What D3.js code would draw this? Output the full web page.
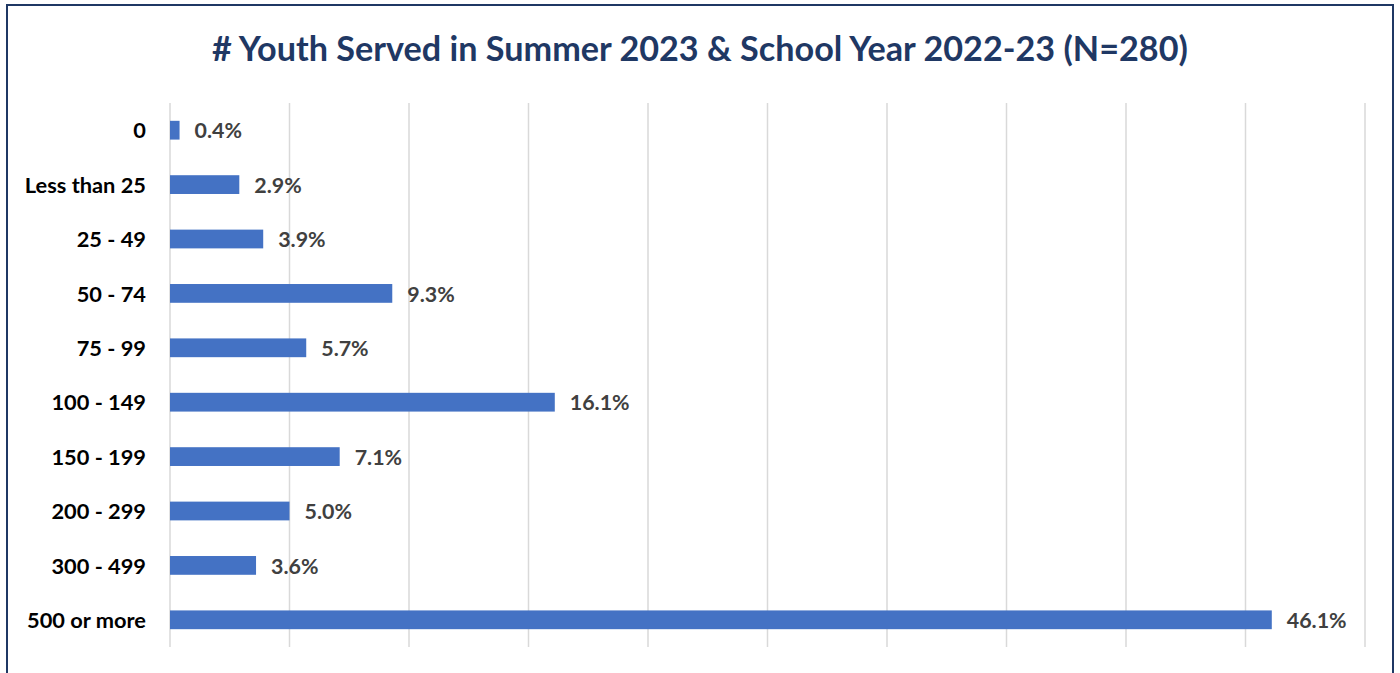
<!DOCTYPE html>
<html>
<head>
<meta charset="utf-8">
<script src="https://cdn.jsdelivr.net/npm/d3@7"></script>
<style>
  body { margin: 0; background: #fff; }
  svg { display: block; }
</style>
</head>
<body>
<svg id="chart"></svg>
<script>
// data
const categories = ['0', 'Less than 25', '25 - 49', '50 - 74', '75 - 99', '100 - 149',
  '150 - 199', '200 - 299', '300 - 499', '500 or more'];
const percents = [0.4, 2.9, 3.9, 9.3, 5.7, 16.1, 7.1, 5.0, 3.6, 46.1];
const xTicks = [0, 5, 10, 15, 20, 25, 30, 35, 40, 45, 50];
const title = '# Youth Served in Summer 2023 & School Year 2022-23 (N=280)';

const width = 1400, height = 673;
const font = 'Lato, "Open Sans", sans-serif';

const svg = d3.select('#chart')
  .attr('width', width)
  .attr('height', height);

// frame
svg.append('rect')
  .attr('x', 7)
  .attr('y', 5)
  .attr('width', 1386)
  .attr('height', 700)
  .attr('fill', 'none')
  .attr('stroke', '#1F3864')
  .attr('stroke-width', 2);

svg.append('text')
  .attr('x', 700)
  .attr('y', 61)
  .attr('text-anchor', 'middle')
  .attr('font-family', font)
  .attr('font-weight', 'bold')
  .attr('font-size', 34.2)
  .attr('fill', '#1F3864')
  .text(title);

const x = d3.scaleLinear()
  .domain([0, 50])
  .range([170, 1365]);

const y = d3.scaleBand()
  .domain(categories)
  .range([103, 647])
  .paddingInner(0.655)
  .paddingOuter(0.3275);

// gridlines
svg.append('g')
  .selectAll('line')
  .data(xTicks)
  .enter()
  .append('line')
  .attr('x1', d => x(d))
  .attr('x2', d => x(d))
  .attr('y1', 103)
  .attr('y2', 647)
  .attr('stroke', '#d9d9d9')
  .attr('stroke-width', 1.5);

// bars
svg.append('g')
  .selectAll('rect')
  .data(percents)
  .enter()
  .append('rect')
  .attr('x', x(0))
  .attr('y', (d, i) => y(categories[i]))
  .attr('width', d => x(d) - x(0))
  .attr('height', y.bandwidth())
  .attr('fill', '#4472C4');

// value labels
svg.append('g')
  .selectAll('text')
  .data(percents)
  .enter()
  .append('text')
  .attr('x', d => x(d) + 15)
  .attr('y', (d, i) => y(categories[i]) + y.bandwidth() / 2)
  .attr('dy', '0.38em')
  .attr('font-family', font)
  .attr('font-weight', 'bold')
  .attr('font-size', 21.4)
  .attr('fill', '#404040')
  .text(d => d.toFixed(1) + '%');

// category labels
svg.append('g')
  .selectAll('text')
  .data(categories)
  .enter()
  .append('text')
  .attr('x', 146)
  .attr('y', d => y(d) + y.bandwidth() / 2)
  .attr('dy', '0.38em')
  .attr('text-anchor', 'end')
  .attr('font-family', font)
  .attr('font-weight', 'bold')
  .attr('font-size', 21.8)
  .attr('fill', '#000')
  .text(d => d);
</script>
</body>
</html>
